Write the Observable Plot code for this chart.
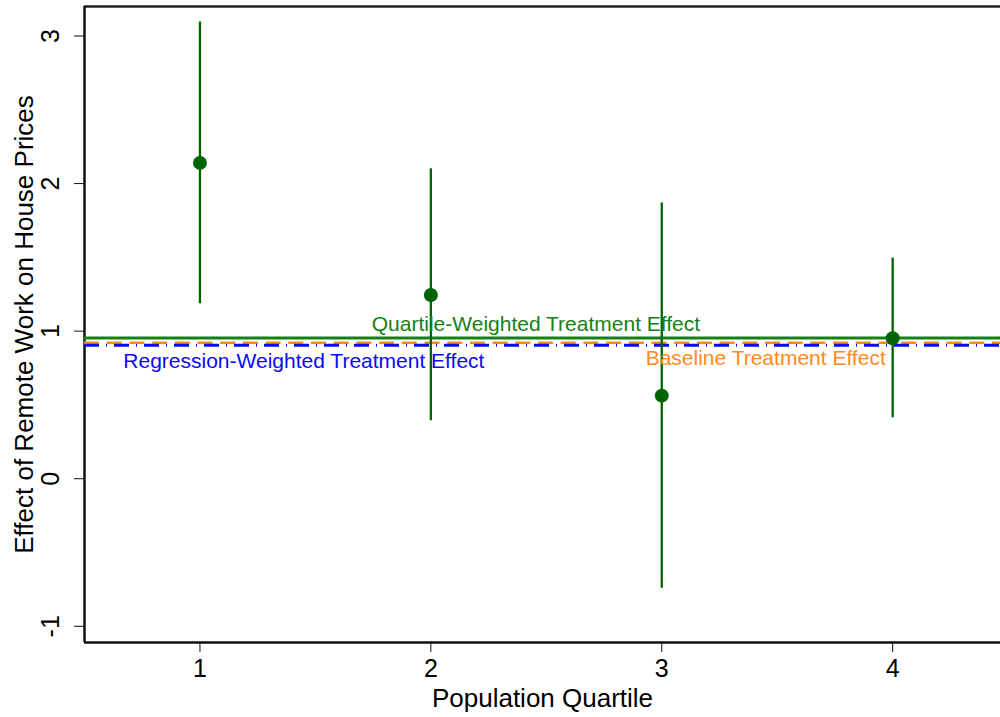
<!DOCTYPE html>
<html>
<head>
<meta charset="utf-8">
<script src="https://cdn.jsdelivr.net/npm/d3@7"></script>
<script src="https://cdn.jsdelivr.net/npm/@observablehq/plot@0.6"></script>
<style>
  html, body { margin: 0; padding: 0; background: #fff; }
  svg { display: block; }
</style>
</head>
<body>
<div id="chart"></div>
<script>
// Data
const quartiles = [1, 2, 3, 4];
const estimates = [2.14, 1.245, 0.563, 0.952];
const ciLow = [1.185, 0.393, -0.742, 0.413];
const ciHigh = [3.095, 2.10, 1.868, 1.495];

const refNames = ["Quartile-Weighted Treatment Effect", "Baseline Treatment Effect", "Regression-Weighted Treatment Effect"];
const refValues = [0.954, 0.922, 0.905];
const refColors = ["#168016", "#FF8A1A", "#0A0AF5"];
const refDash = [null, "15,7.7", "15,7,1,7"];
const refWidth = [3, 2.5, 3];

// label anchor positions (data units)
const labelX = [2.455, 3.45, 1.45];
const labelY = [1.045, 0.818, 0.795];

const yTicks = [-1, 0, 1, 2, 3];
const xTicks = [1, 2, 3, 4];
const xDomain = [0.5, 4.467];
const yDomain = [-1.11, 3.2];

const points = quartiles.map((q, i) => ({q, est: estimates[i], lo: ciLow[i], hi: ciHigh[i]}));
const refs = refNames.map((name, i) => ({name, value: refValues[i], color: refColors[i], dash: refDash[i], w: refWidth[i], lx: labelX[i], ly: labelY[i]}));

const font = "'Liberation Sans', Arial, Helvetica, sans-serif";
const fmt = d => String(d);

const chart = Plot.plot({
  width: 1000,
  height: 717,
  marginTop: 6,
  marginBottom: 75,
  marginLeft: 84,
  marginRight: 0,
  style: {fontFamily: font, background: "#fff", color: "#000"},
  x: {domain: xDomain},
  y: {domain: yDomain},
  marks: [
    // frame lines (top, left, bottom)
    Plot.ruleY([yDomain[1]], {stroke: "#222", strokeWidth: 2.5}),
    Plot.ruleY([yDomain[0]], {stroke: "#111", strokeWidth: 2.5}),
    Plot.ruleX([xDomain[0]], {stroke: "#111", strokeWidth: 2.5}),
    // reference lines
    ...refs.map(r => Plot.ruleY([r.value], {stroke: r.color, strokeWidth: r.w, strokeDasharray: r.dash})),
    // confidence intervals
    Plot.ruleX(points, {x: "q", y1: "lo", y2: "hi", stroke: "#006400", strokeWidth: 2.3}),
    Plot.dot(points, {x: "q", y: "est", r: 7, fill: "#006400", stroke: "none"}),
    // reference labels
    Plot.text(refs, {x: "lx", y: "ly", text: "name", fill: "color", fontSize: 21, textAnchor: "middle"}),
    // axes
    Plot.axisX({ticks: xTicks, tickSize: 10, tickPadding: 7, fontSize: 25, tickFormat: fmt, label: null, stroke: "#111"}),
    Plot.axisY({ticks: yTicks, tickSize: 10, tickPadding: 16, fontSize: 25, tickRotate: -90, tickFormat: fmt, label: null, textAnchor: "middle", stroke: "#111"}),
    Plot.text(["Population Quartile"], {frameAnchor: "bottom", dy: 64, fontSize: 26, fill: "#000"}),
    Plot.text(["Effect of Remote Work on House Prices"], {frameAnchor: "left", dx: -60, rotate: -90, textAnchor: "middle", fontSize: 26, fill: "#000"})
  ]
});
document.getElementById("chart").appendChild(chart);
</script>
</body>
</html>
